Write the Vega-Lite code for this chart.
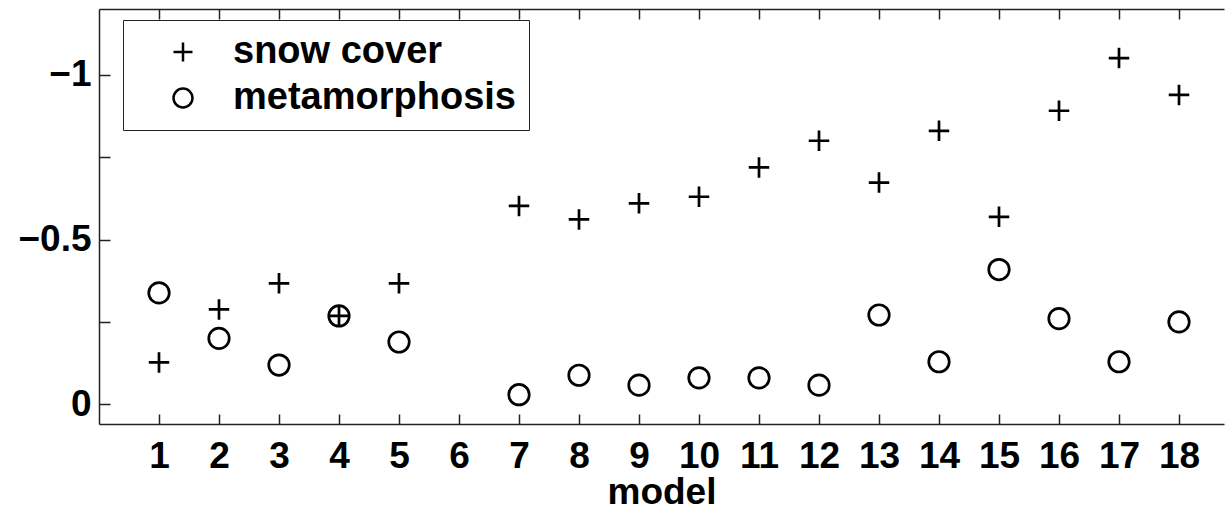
{
  "$schema": "https://vega.github.io/schema/vega-lite/v6.json",
  "width": 1125,
  "height": 415,
  "autosize": {"type": "none"},
  "padding": {"left": 99, "top": 9, "right": 1, "bottom": 89},
  "background": "white",
  "config": {
    "view": {"stroke": null},
    "font": "Liberation Sans",
    "axis": {
      "domainColor": "#222",
      "domainWidth": 1.5,
      "tickColor": "#222",
      "tickWidth": 1.5,
      "grid": false,
      "labelFont": "Liberation Sans",
      "labelFontWeight": "bold",
      "labelFontSize": 37,
      "labelColor": "black",
      "titleFont": "Liberation Sans",
      "titleFontWeight": "bold",
      "titleFontSize": 37,
      "titleColor": "black"
    }
  },
  "data": {
    "values": [
      {"model": 1, "series": "snow cover", "value": -0.127},
      {"model": 1, "series": "metamorphosis", "value": -0.338},
      {"model": 2, "series": "snow cover", "value": -0.288},
      {"model": 2, "series": "metamorphosis", "value": -0.200},
      {"model": 3, "series": "snow cover", "value": -0.367},
      {"model": 3, "series": "metamorphosis", "value": -0.119},
      {"model": 4, "series": "snow cover", "value": -0.268},
      {"model": 4, "series": "metamorphosis", "value": -0.268},
      {"model": 5, "series": "snow cover", "value": -0.367},
      {"model": 5, "series": "metamorphosis", "value": -0.189},
      {"model": 7, "series": "snow cover", "value": -0.602},
      {"model": 7, "series": "metamorphosis", "value": -0.029},
      {"model": 8, "series": "snow cover", "value": -0.561},
      {"model": 8, "series": "metamorphosis", "value": -0.088},
      {"model": 9, "series": "snow cover", "value": -0.610},
      {"model": 9, "series": "metamorphosis", "value": -0.058},
      {"model": 10, "series": "snow cover", "value": -0.630},
      {"model": 10, "series": "metamorphosis", "value": -0.080},
      {"model": 11, "series": "snow cover", "value": -0.719},
      {"model": 11, "series": "metamorphosis", "value": -0.080},
      {"model": 12, "series": "snow cover", "value": -0.800},
      {"model": 12, "series": "metamorphosis", "value": -0.058},
      {"model": 13, "series": "snow cover", "value": -0.673},
      {"model": 13, "series": "metamorphosis", "value": -0.271},
      {"model": 14, "series": "snow cover", "value": -0.830},
      {"model": 14, "series": "metamorphosis", "value": -0.129},
      {"model": 15, "series": "snow cover", "value": -0.569},
      {"model": 15, "series": "metamorphosis", "value": -0.409},
      {"model": 16, "series": "snow cover", "value": -0.891},
      {"model": 16, "series": "metamorphosis", "value": -0.260},
      {"model": 17, "series": "snow cover", "value": -1.051},
      {"model": 17, "series": "metamorphosis", "value": -0.129},
      {"model": 18, "series": "snow cover", "value": -0.939},
      {"model": 18, "series": "metamorphosis", "value": -0.250}
    ]
  },
  "layer": [
    {
      "mark": {"type": "point", "filled": false, "strokeWidth": 2.7, "color": "black", "opacity": 1},
      "encoding": {
        "x": {
          "field": "model", "type": "quantitative",
          "scale": {"domain": [0, 18.75], "nice": false, "zero": false},
          "axis": {
            "orient": "bottom",
            "values": [1,2,3,4,5,6,7,8,9,10,11,12,13,14,15,16,17,18],
            "ticks": false,
            "labelPadding": 14,
            "labelFlush": false,
            "labelOverlap": false,
            "title": "model",
            "titlePadding": 0
          }
        },
        "y": {
          "field": "value", "type": "quantitative",
          "scale": {"domain": [-1.2, 0.06], "nice": false, "zero": false, "reverse": true},
          "axis": {
            "orient": "left",
            "values": [-1, -0.5, 0],
            "ticks": false,
            "labelPadding": 8,
            "labelOverlap": false,
            "labelExpr": "datum.value == -1 ? '−1' : datum.value == -0.5 ? '−0.5' : '0'",
            "title": null
          }
        },
        "shape": {
          "field": "series", "type": "nominal",
          "scale": {"domain": ["snow cover", "metamorphosis"], "range": ["M-1,0H1M0,-1V1", "circle"]},
          "legend": {
            "orient": "none",
            "legendX": 24,
            "legendY": 11,
            "title": null,
            "strokeColor": "#222",
            "fillColor": "white",
            "padding": 13,
            "symbolOffset": 28,
            "labelOffset": 31,
            "labelFont": "Liberation Sans",
            "labelFontWeight": "bold",
            "labelFontSize": 38,
            "labelColor": "black",
            "labelLimit": 0,
            "symbolSize": 360,
            "symbolStrokeWidth": 2.5,
            "symbolStrokeColor": "black",
            "symbolFillColor": "transparent",
            "rowPadding": 8
          }
        },
        "size": {"value": 420}
      }
    },
    {
      "mark": {"type": "point", "opacity": 0},
      "encoding": {
        "x": {
          "field": "model", "type": "quantitative",
          "axis": {
            "orient": "bottom",
            "offset": -10,
            "values": [1,2,3,4,5,6,7,8,9,10,11,12,13,14,15,16,17,18],
            "tickSize": 10,
            "domain": false,
            "labels": false,
            "title": null
          }
        },
        "y": {
          "field": "value", "type": "quantitative",
          "axis": {
            "orient": "left",
            "offset": -11,
            "values": [-1, -0.75, -0.5, -0.25, 0],
            "tickSize": 11,
            "domain": false,
            "labels": false,
            "title": null
          }
        }
      }
    },
    {
      "mark": {"type": "point", "opacity": 0},
      "encoding": {
        "x": {
          "field": "model", "type": "quantitative",
          "axis": {
            "orient": "top",
            "values": [1,2,3,4,5,6,7,8,9,10,11,12,13,14,15,16,17,18],
            "ticks": false,
            "labels": false,
            "title": null
          }
        }
      }
    },
    {
      "mark": {"type": "point", "opacity": 0},
      "encoding": {
        "x": {
          "field": "model", "type": "quantitative",
          "axis": {
            "orient": "top",
            "offset": -10,
            "values": [1,2,3,4,5,6,7,8,9,10,11,12,13,14,15,16,17,18],
            "tickSize": 10,
            "domain": false,
            "labels": false,
            "title": null
          }
        }
      }
    }
  ],
  "resolve": {"axis": {"x": "independent", "y": "independent"}}
}
